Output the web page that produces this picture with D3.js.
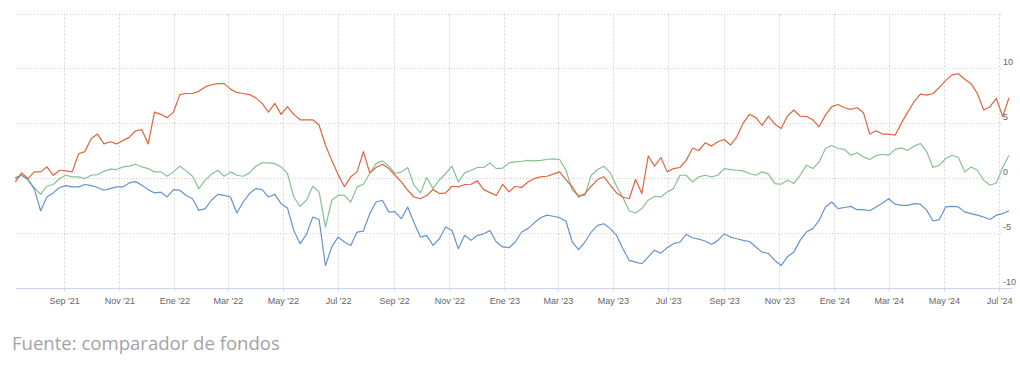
<!DOCTYPE html>
<html><head><meta charset="utf-8">
<script src="https://cdn.jsdelivr.net/npm/d3@7"></script>
<style>body{margin:0;background:#fff;}svg{display:block;}</style>
</head><body><svg id="c" width="1020" height="366"></svg>
<script>
// ---- data (weekly closes, % change) ----
const startDate = "2021-07-09";
const stepDays = 7;
const red = [-0.37,0.46,-0.06,0.55,0.55,1.0,0.24,0.7,0.64,0.55,2.2,2.4,3.6,4.0,3.1,3.3,3.1,3.4,3.7,4.3,4.4,3.1,6.0,5.8,5.5,6.0,7.6,7.7,7.7,7.9,8.3,8.5,8.6,8.6,8.1,7.8,7.7,7.6,7.3,6.8,6.0,6.8,5.8,6.5,5.8,5.3,5.3,5.3,4.8,3.0,1.6,0.3,-0.8,0.1,0.55,2.4,0.46,0.95,1.25,0.85,0.24,-0.37,-1.13,-1.74,-1.9,-1.6,-1.07,-1.43,-1.37,-0.76,-0.82,-0.6,-0.58,-0.27,-1.07,-1.34,-1.6,-0.58,-1.28,-0.76,-0.88,-0.37,-0.06,0.1,0.15,0.34,0.55,-0.15,-0.82,-1.74,-1.43,-0.76,-0.15,0.1,-0.67,-1.37,-1.74,-1.9,-0.15,-1.43,2.0,1.07,1.86,0.55,0.85,0.95,1.6,2.7,2.5,3.2,2.9,3.3,3.5,3.0,3.75,5.0,5.8,5.5,4.8,5.64,4.9,4.5,5.64,6.2,5.64,5.6,5.3,4.66,5.73,6.5,6.7,6.4,6.25,6.4,5.95,4.0,4.3,4.0,4.0,3.9,5.0,6.0,6.95,7.65,7.56,7.7,8.26,8.9,9.4,9.5,9.0,8.6,7.7,6.2,6.5,7.26,5.6,7.3];
const green = [0.03,0.24,-0.15,-0.9,-1.5,-0.76,-0.6,-0.06,0.24,0.1,0.1,-0.06,0.24,0.3,0.6,0.8,0.76,1.0,1.07,1.25,1.0,0.85,0.55,0.55,0.15,0.55,1.07,0.64,0.15,-0.98,-0.2,0.34,0.7,0.15,0.55,0.24,0.15,0.46,1.07,1.37,1.37,1.3,1.0,0.4,-1.74,-2.6,-2.04,-0.76,-1.28,-4.5,-2.04,-1.6,-1.6,-2.2,-0.82,-0.58,0.4,1.3,1.55,1.07,0.4,0.55,0.95,-0.67,-1.37,0.03,-0.98,-0.2,0.4,1.07,-0.37,0.46,0.7,0.95,0.95,1.37,0.85,0.9,1.37,1.46,1.52,1.6,1.55,1.6,1.68,1.74,1.68,0.7,-1.13,-1.6,-1.6,0.24,0.76,1.07,0.46,-0.76,-1.8,-3.0,-3.2,-2.8,-2.04,-1.68,-1.74,-1.28,-0.98,0.24,0.24,-0.37,0.1,0.24,0.1,0.24,0.85,0.76,0.7,0.64,0.4,0.24,0.55,0.34,-0.52,-0.58,-0.2,-0.52,0.24,1.16,0.85,1.46,2.68,2.96,2.68,2.6,2.07,2.3,1.92,1.68,2.04,2.16,2.07,2.6,2.74,2.5,2.9,3.14,2.38,0.95,1.16,1.77,2.07,1.86,0.55,1.0,0.7,-0.2,-0.67,-0.46,0.95,2.07];
const blue = [-0.06,0.24,-0.15,-1.0,-3.0,-1.74,-1.37,-0.88,-0.7,-0.82,-0.82,-0.6,-0.7,-0.88,-1.13,-0.98,-0.82,-0.82,-0.46,-0.34,-0.67,-1.07,-1.37,-1.3,-1.74,-1.07,-1.13,-1.6,-1.9,-2.96,-2.8,-2.04,-1.5,-1.6,-1.74,-3.2,-2.2,-1.43,-0.98,-1.07,-1.74,-1.5,-2.35,-2.74,-4.8,-6.0,-5.15,-3.57,-3.8,-8.0,-6.3,-5.4,-5.85,-6.16,-4.94,-4.85,-3.26,-2.2,-2.04,-3.1,-3.1,-3.72,-2.65,-4.1,-5.4,-5.24,-6.16,-5.55,-4.48,-4.8,-6.46,-5.24,-5.7,-5.24,-5.1,-4.8,-5.85,-6.3,-6.37,-5.85,-4.94,-4.63,-4.1,-3.63,-3.4,-3.5,-3.63,-3.93,-5.85,-6.55,-5.85,-4.94,-4.33,-4.18,-4.63,-5.24,-6.46,-7.53,-7.68,-7.83,-7.2,-6.6,-6.86,-6.37,-6.0,-5.85,-5.15,-5.46,-5.58,-5.76,-6.07,-5.7,-5.1,-5.4,-5.55,-5.7,-5.8,-6.3,-6.77,-6.9,-7.53,-8.0,-7.2,-6.77,-5.7,-4.94,-4.63,-3.87,-2.65,-2.2,-2.8,-2.7,-2.6,-2.9,-2.9,-3.0,-2.65,-2.3,-1.9,-2.4,-2.5,-2.5,-2.35,-2.4,-2.96,-3.93,-3.8,-2.65,-2.6,-2.65,-3.1,-3.26,-3.4,-3.57,-3.8,-3.4,-3.26,-3.0];
const yTicks = [-10,-5,0,5,10,15];
const yLabelTicks = [-10,-5,0,5,10];
const monthNames = ["Ene","Feb","Mar","Abr","May","Jun","Jul","Ago","Sep","Oct","Nov","Dic"];
const xTickStart = "2021-09-01", xTickEnd = "2024-07-02";
const sourceText = "Fuente: comparador de fondos";

// ---- layout ----
const svg = d3.select("#c");
const parse = d3.timeParse("%Y-%m-%d");
const t0 = parse(startDate);
const dates = red.map((_, i) => d3.timeDay.offset(t0, i * stepDays));

const x = d3.scaleTime()
  .domain([parse("2021-07-12"), parse("2024-07-12")])
  .range([18, 1009]);
const y = d3.scaleLinear().domain([-10, 15]).range([287.5, 13.5]);
const gridX0 = 16, gridX1 = 1002;

const ticks = d3.timeMonth.every(2).range(parse(xTickStart), parse(xTickEnd));

// horizontal grid
svg.append("g").selectAll("line").data(yTicks.filter(v => v > -10)).join("line")
  .attr("x1", gridX0).attr("x2", gridX1)
  .attr("y1", d => Math.round(y(d)) + 0.5).attr("y2", d => Math.round(y(d)) + 0.5)
  .attr("stroke", "#cfcfcf").attr("stroke-width", 1).attr("stroke-dasharray", "1,2");

// vertical grid
svg.append("g").selectAll("line").data(ticks).join("line")
  .attr("x1", d => Math.round(x(d)) + 0.5).attr("x2", d => Math.round(x(d)) + 0.5)
  .attr("y1", y(15)).attr("y2", y(-10))
  .attr("stroke", "#d6d6d6").attr("stroke-width", 1).attr("stroke-dasharray", "2,2");

// x axis
const xAxis = d3.axisBottom(x).tickValues(ticks).tickSize(3).tickPadding(6)
  .tickFormat(d => monthNames[d.getMonth()] + " '" + d3.timeFormat("%y")(d));
const gx = svg.append("g").attr("transform", `translate(0,${Math.round(y(-10)) + 0.5})`).call(xAxis);
gx.select(".domain").remove();
gx.append("line").attr("x1", gridX0).attr("x2", 1012).attr("stroke", "#ccd6eb");
gx.selectAll(".tick line").attr("stroke", "#ccd6eb");
gx.selectAll(".tick text").attr("fill", "#666").attr("font-size", "9px")
  .attr("font-family", "'Liberation Sans', Arial, sans-serif");

// y labels (right side, inside)
svg.append("g").selectAll("text").data(yLabelTicks).join("text")
  .attr("x", 1003).attr("y", d => y(d) - 3)
  .attr("fill", "#666").attr("font-size", "9px")
  .attr("font-family", "'Liberation Sans', Arial, sans-serif")
  .text(d => d);

// lines
const line = d3.line().x((d, i) => x(dates[i])).y(d => y(d)).curve(d3.curveLinear);
const series = [
  {name: "green", vals: green, color: "#86c293"},
  {name: "blue", vals: blue, color: "#6594d0"},
  {name: "red", vals: red, color: "#e0643f"}
];
svg.append("g").selectAll("path").data(series).join("path")
  .attr("d", d => line(d.vals))
  .attr("fill", "none").attr("stroke", d => d.color)
  .attr("stroke-width", 1.2).attr("stroke-linejoin", "round");

// source
const src = svg.append("text").attr("x", 12).attr("y", 350)
  .attr("fill", "#a3a3a3").attr("font-family", "'Open Sans', sans-serif")
  .attr("font-size", "18px").text(sourceText);
const w = src.node().getComputedTextLength();
src.attr("font-size", (18 * 268 / w).toFixed(2) + "px");
</script></body></html>
